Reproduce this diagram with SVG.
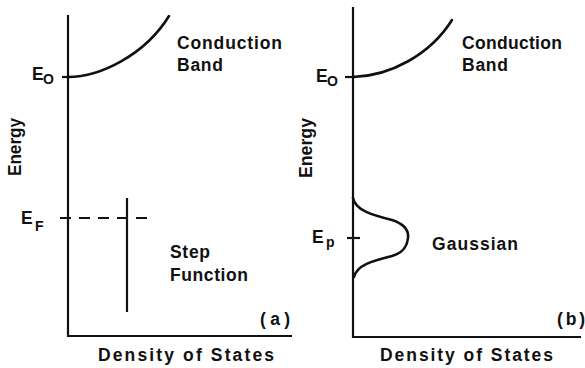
<svg xmlns="http://www.w3.org/2000/svg" width="585" height="368" viewBox="0 0 585 368">
<style>
text{font-family:"Liberation Sans",Arial,sans-serif;font-weight:bold;font-size:17.5px;fill:#111}
.ln{fill:none;stroke:#111;stroke-width:2.2;stroke-linecap:butt}
.cv{fill:none;stroke:#111;stroke-width:2.6;stroke-linecap:round}
.sub{font-size:14px}
</style>
<rect width="585" height="368" fill="#fff"/>
<g id="panel-a">
  <g id="axes-a">
    <path class="ln" d="M68,15 V336 H292"/>
  </g>
  <g id="connectors-a">
    <path class="cv" d="M68,77 C100,77 145,55 169,16"/>
    <line class="ln" x1="62" y1="77" x2="70" y2="77"/>
    <line class="ln" x1="60" y1="218" x2="148" y2="218" stroke-dasharray="11 8"/>
    <line class="ln" x1="127" y1="198" x2="127" y2="312"/>
  </g>
  <g id="label-E0-a"><text x="32" y="80">E<tspan class="sub" x="43" y="84">O</tspan></text></g>
  <g id="label-energy-a"><text transform="translate(21,147) rotate(-90)" text-anchor="middle" textLength="58" lengthAdjust="spacingAndGlyphs">Energy</text></g>
  <g id="label-EF"><text x="21" y="224">E<tspan class="sub" x="35" y="231">F</tspan></text></g>
  <g id="label-cb-a"><text x="177" y="49" textLength="105">Conduction</text><text x="177" y="71" textLength="46">Band</text></g>
  <g id="label-step"><text x="170" y="258" textLength="40">Step</text><text x="170" y="281" textLength="78">Function</text></g>
  <g id="label-a"><text x="260" y="325" textLength="30">(a)</text></g>
  <g id="label-dos-a"><text x="98" y="361" textLength="176">Density of States</text></g>
</g>
<g id="panel-b">
  <g id="axes-b">
    <path class="ln" d="M353,7 V337 H581"/>
  </g>
  <g id="connectors-b">
    <path class="cv" d="M353,77 C390,76 430,55 452,20"/>
    <line class="ln" x1="345" y1="77" x2="356" y2="77"/>
    <path class="cv" d="M353,198 C355,210 372,215 392,220 C404,224 409,230 408,238 C407,248 402,253 392,256 C372,261 357,265 354,277"/>
    <line class="ln" x1="347" y1="238" x2="360" y2="238"/>
  </g>
  <g id="label-E0-b"><text x="316" y="82">E<tspan class="sub" x="327" y="86">O</tspan></text></g>
  <g id="label-energy-b"><text transform="translate(312,148) rotate(-90)" text-anchor="middle" textLength="60" lengthAdjust="spacingAndGlyphs">Energy</text></g>
  <g id="label-Ep"><text x="312" y="243">E<tspan class="sub" x="326" y="247">p</tspan></text></g>
  <g id="label-cb-b"><text x="462" y="49" textLength="100">Conduction</text><text x="462" y="71" textLength="46">Band</text></g>
  <g id="label-gaussian"><text x="432" y="250" textLength="86">Gaussian</text></g>
  <g id="label-b"><text x="557" y="325" textLength="28">(b)</text></g>
  <g id="label-dos-b"><text x="380" y="361" textLength="173">Density of States</text></g>
</g>
</svg>
